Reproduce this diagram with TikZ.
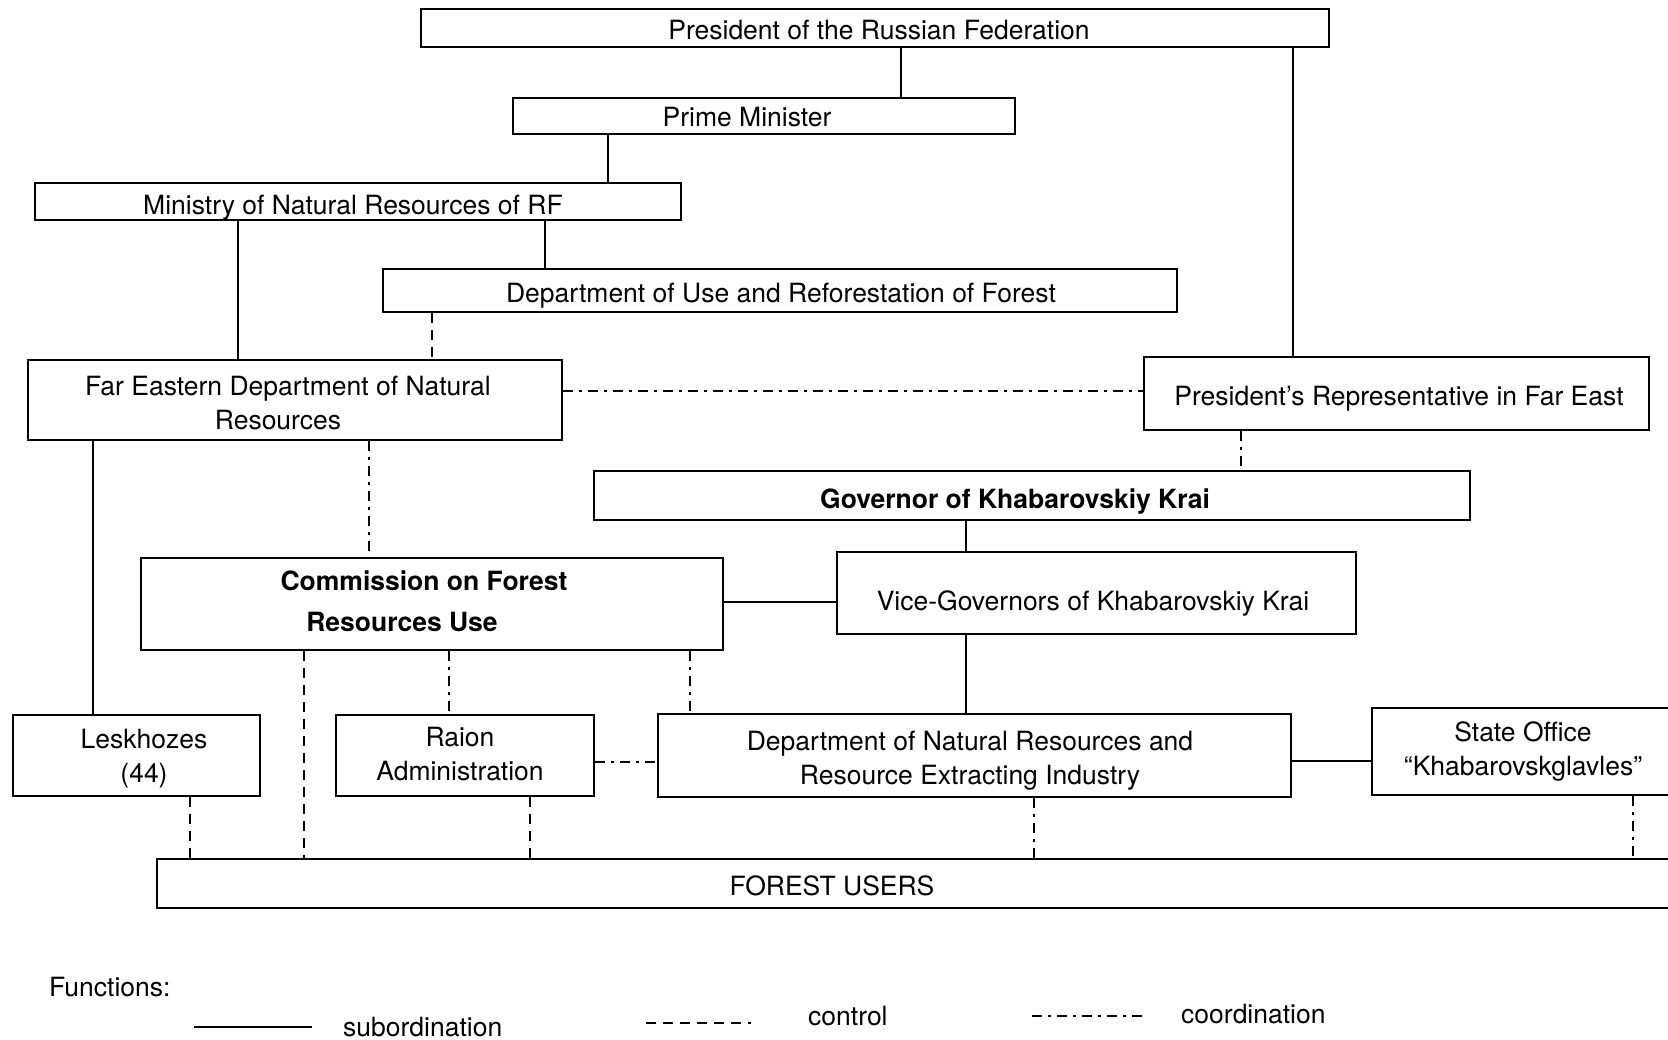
\documentclass[tikz,border=0pt]{standalone}
\usepackage{fontspec}
\setmainfont{TeX Gyre Heros}
\begin{document}
\begin{tikzpicture}[x=1pt,y=-1pt,
  box/.style={draw, line width=1.6pt, inner sep=0pt, rectangle},
  lbl/.style={font=\fontsize{26.5}{34}\selectfont, align=center, inner sep=0pt},
  sub/.style={line width=1.8pt},
  ctrl/.style={line width=1.8pt, dash pattern=on 10pt off 7pt},
  coordl/.style={line width=1.8pt, dash pattern=on 10pt off 6pt on 3pt off 6pt}]
\useasboundingbox (0,0) rectangle (1668,1039);
\clip (0,0) rectangle (1668,1039);
\fill[white] (0,0) rectangle (1668,1039);
% boxes
\node[box, minimum width=908, minimum height=38] (pres) at (875,28) {};
\node[box, minimum width=502, minimum height=36] (pm) at (764,116) {};
\node[box, minimum width=646, minimum height=37] (min) at (358,201.5) {};
\node[box, minimum width=794, minimum height=43] (duse) at (780,290.5) {};
\node[box, minimum width=534, minimum height=80] (fe) at (295,400) {};
\node[box, minimum width=505, minimum height=73] (prep) at (1396.5,393.5) {};
\node[box, minimum width=876, minimum height=49] (gov) at (1032,495.5) {};
\node[box, minimum width=582, minimum height=92] (com) at (432,604) {};
\node[box, minimum width=519, minimum height=82] (vg) at (1096.5,593) {};
\node[box, minimum width=247, minimum height=81] (les) at (136.5,755.5) {};
\node[box, minimum width=258, minimum height=81] (raion) at (465,755.5) {};
\node[box, minimum width=633, minimum height=83] (dnr) at (974.5,755.5) {};
\node[box, minimum width=318, minimum height=87] (so) at (1531,751.5) {};
\node[box, minimum width=1543, minimum height=49] (fu) at (928.5,883.5) {};
% texts
\node[lbl] (tpres) at (879,30) {President of the Russian Federation};
\node[lbl] (tpm) at (747,117) {Prime Minister};
\node[lbl] (tmin) at (353,208) {Ministry of Natural Resources of RF};
\node[lbl] (tduse) at (781,296) {Department of Use and Reforestation of Forest};
\node[lbl] (tfe) at (283,403) {\hspace*{10pt}Far Eastern Department of Natural\\Resources\hspace*{10pt}};
\node[lbl] (tprep) at (1399,399) {President\symbol{"27}s Representative in Far East};
\node[lbl, font=\fontsize{26.5}{34}\selectfont\bfseries] (tgov) at (1015,502) {Governor of Khabarovskiy Krai};
\node[lbl, font=\fontsize{26.5}{41}\selectfont\bfseries] (tcom) at (413,601) {\hspace*{22pt}Commission on Forest\\Resources Use\hspace*{22pt}};
\node[lbl] (tvg) at (1093,603) {Vice-Governors of Khabarovskiy Krai};
\node[lbl] (tles) at (144,759) {Leskhozes\\(44)};
\node[lbl] (traion) at (460,754) {Raion\\Administration};
\node[lbl] (tdnr) at (970,761) {Department of Natural Resources and\\Resource Extracting Industry};
\node[lbl] (tso) at (1523,751) {State Office\\``Khabarovskglavles''};
\node[lbl] (tfu) at (832,886) {FOREST USERS};
% connectors
\draw[sub] (901,0 |- pres.south) -- (901,0 |- pm.north);
\draw[sub] (1293,0 |- pres.south) -- (1293,0 |- prep.north);
\draw[sub] (608,0 |- pm.south) -- (608,0 |- min.north);
\draw[sub] (545,0 |- min.south) -- (545,0 |- duse.north);
\draw[sub] (238,0 |- min.south) -- (238,0 |- fe.north);
\draw[ctrl] (432,0 |- duse.south) -- (432,0 |- fe.north);
\draw[coordl] (fe.east |- 0,391) -- (prep.west |- 0,391);
\draw[coordl] (1241,0 |- prep.south) -- (1241,0 |- gov.north);
\draw[coordl] (369,0 |- fe.south) -- (369,0 |- com.north);
\draw[sub] (93,0 |- fe.south) -- (93,0 |- les.north);
\draw[sub] (966,0 |- gov.south) -- (966,0 |- vg.north);
\draw[sub] (com.east |- 0,602) -- (vg.west |- 0,602);
\draw[sub] (966,0 |- vg.south) -- (966,0 |- dnr.north);
\draw[ctrl] (304,0 |- com.south) -- (304,0 |- fu.north);
\draw[coordl] (449,0 |- com.south) -- (449,0 |- raion.north);
\draw[coordl] (690,0 |- com.south) -- (690,0 |- dnr.north);
\draw[ctrl] (190,0 |- les.south) -- (190,0 |- fu.north);
\draw[ctrl] (530,0 |- raion.south) -- (530,0 |- fu.north);
\draw[coordl] (raion.east |- 0,762) -- (dnr.west |- 0,762);
\draw[coordl] (1034,0 |- dnr.south) -- (1034,0 |- fu.north);
\draw[sub] (dnr.east |- 0,761) -- (so.west |- 0,761);
\draw[coordl] (1633,0 |- so.south) -- (1633,0 |- fu.north);
% legend
\node[lbl, anchor=west] (tfun) at (49,987) {Functions:};
\coordinate (ls1) at (194,1027);
\coordinate (ls2) at (312,1027);
\draw[sub] (ls1) -- (ls2);
\node[lbl, anchor=west] (tsub) at (343,1027) {subordination};
\coordinate (lc1) at (646,1023);
\coordinate (lc2) at (751,1023);
\draw[ctrl] (lc1) -- (lc2);
\node[lbl, anchor=west] (tctrl) at (808,1016) {control};
\coordinate (ld1) at (1032,1016);
\coordinate (ld2) at (1144,1016);
\draw[coordl] (ld1) -- (ld2);
\node[lbl, anchor=west] (tcoord) at (1181,1014) {coordination};
\end{tikzpicture}
\end{document}
